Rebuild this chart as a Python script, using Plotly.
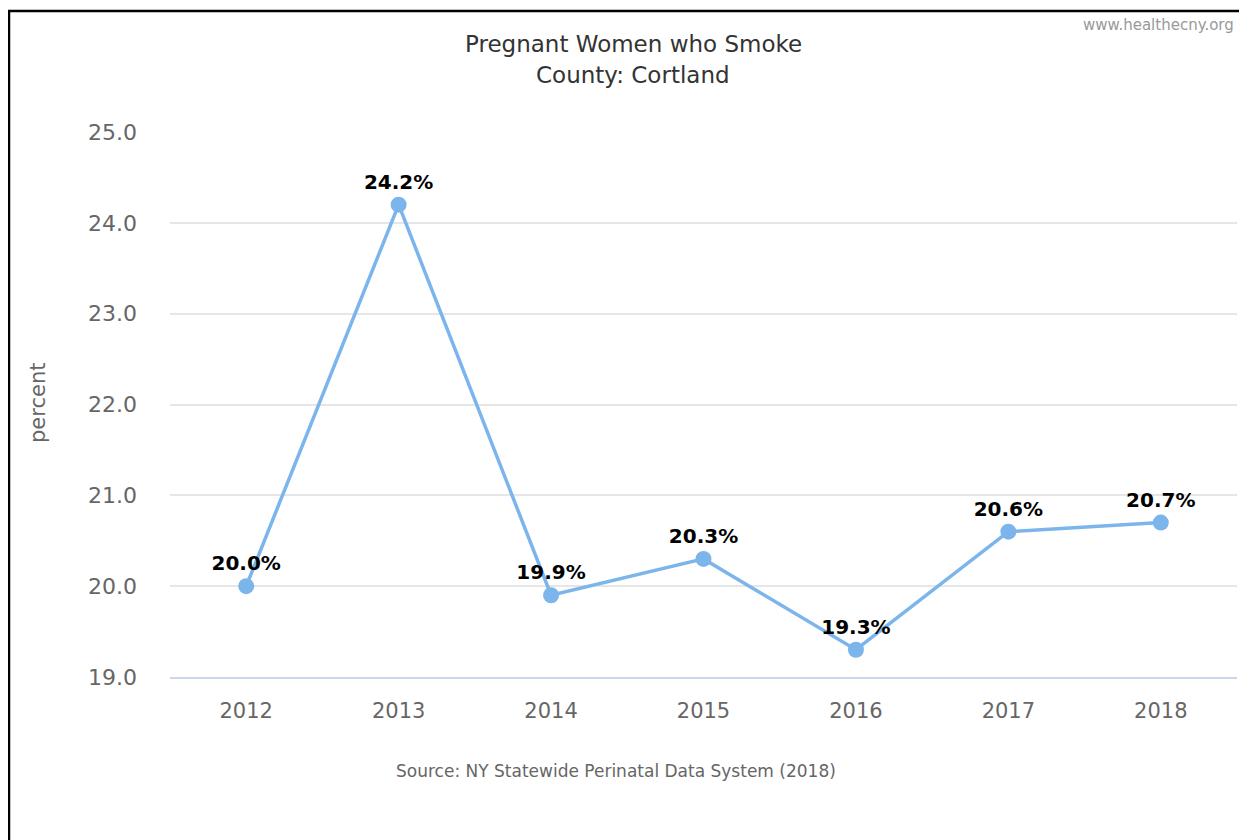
import plotly.graph_objects as go

years = ["2012", "2013", "2014", "2015", "2016", "2017", "2018"]
values = [20.0, 24.2, 19.9, 20.3, 19.3, 20.6, 20.7]
labels = [f"{v:.1f}%" for v in values]
y_ticks = [19, 20, 21, 22, 23, 24, 25]

OFF = 8  # page body margin
W, H = 1247 - OFF, 840 - OFF
# plot area in page pixels
PL, PR, PT, PB = 170, 1237, 132, 677
L, R, T, B = PL - OFF, W - (PR - OFF), PT - OFF, H - (PB - OFF)
pw = PR - PL
ph = PB - PT

def px(x):
    return (x - PL) / pw

def py(y):
    return (PB - y) / ph

font = "DejaVu Sans"

fig = go.Figure()
fig.add_trace(go.Scatter(
    x=years, y=values, mode="lines+markers+text",
    line=dict(color="#7cb5ec", width=3.5),
    marker=dict(color="#7cb5ec", size=16),
    text=labels, textposition="top center",
    textfont=dict(family=font, size=20, color="#000000", weight="bold"),
    cliponaxis=False, hoverinfo="skip", showlegend=False,
))

fig.update_layout(
    width=W, height=H,
    margin=dict(l=L, r=R, t=T, b=B),
    paper_bgcolor="white", plot_bgcolor="white",
    font=dict(family=font),
    xaxis=dict(
        type="category", range=[-0.5, 6.5],
        showgrid=False, showline=True, linecolor="#ccd6eb", linewidth=1.5,
        ticks="", tickfont=dict(size=21, color="#666666"),
        ticklabelstandoff=14, zeroline=False,
    ),
    yaxis=dict(
        range=[19, 25], tickvals=y_ticks, ticktext=[f"{v:.1f}" for v in y_ticks],
        showgrid=True, gridcolor="#e6e6e6", gridwidth=1.5,
        showline=False, zeroline=False, ticks="",
        tickfont=dict(size=22, color="#666666"), ticklabelstandoff=32,
    ),
    annotations=[
        dict(text="Pregnant Women who Smoke", x=px(633), y=py(44), xref="paper", yref="paper",
             showarrow=False, font=dict(family=font, size=23, color="#333333"), xanchor="center", yanchor="middle"),
        dict(text="County: Cortland", x=px(633), y=py(75), xref="paper", yref="paper",
             showarrow=False, font=dict(family=font, size=23, color="#333333"), xanchor="center", yanchor="middle"),
        dict(text="www.healthecny.org", x=px(1236), y=py(25), xref="paper", yref="paper",
             showarrow=False, font=dict(family=font, size=15, color="#999999"), xanchor="right", yanchor="middle"),
        dict(text="percent", x=px(38), y=py(403), xref="paper", yref="paper", textangle=-90,
             showarrow=False, font=dict(family=font, size=21, color="#666666"), xanchor="center", yanchor="middle"),
        dict(text="Source: NY Statewide Perinatal Data System (2018)", x=px(616), y=py(771), xref="paper", yref="paper",
             showarrow=False, font=dict(family=font, size=17, color="#666666"), xanchor="center", yanchor="middle"),
    ],
    shapes=[
        dict(type="line", xref="paper", yref="paper", x0=px(8), x1=px(1260), y0=py(11), y1=py(11),
             line=dict(color="#000000", width=2.5)),
        dict(type="line", xref="paper", yref="paper", x0=px(9), x1=px(9), y0=py(10), y1=py(860),
             line=dict(color="#000000", width=2.5)),
    ],
)

fig.write_html("out.html")
